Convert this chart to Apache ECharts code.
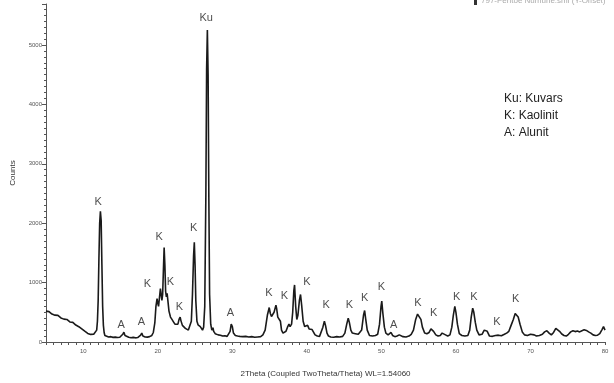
<!DOCTYPE html>
<html>
<head>
<meta charset="utf-8">
<script src="https://cdn.jsdelivr.net/npm/echarts@6/dist/echarts.min.js"></script>
<style>html,body{margin:0;padding:0;background:#fff}#c{width:614px;height:383px}</style>
</head>
<body>
<div id="c"></div>
<script>
// 2Theta positions (degrees)
var twoTheta = [
5.0,5.2,5.4,5.6,5.8,6.0,6.2,6.4,6.6,6.8,7.0,7.2,7.4,7.6,7.8,8.0,8.2,8.4,8.6,8.8,9.0,9.2,9.4,9.6,9.8,10.0,10.2,10.4,10.6,10.8,11.0,11.2,11.4,11.6,
11.8,11.9,12.0,12.1,12.2,12.3,12.4,12.5,12.6,12.7,12.8,12.9,
13.1,13.4,13.7,14.0,14.3,14.6,14.9,15.1,15.3,15.45,15.6,15.8,16.1,16.4,16.7,17.0,17.3,17.5,17.7,17.85,18.0,18.3,18.6,18.9,19.2,19.4,19.6,19.75,19.9,20.0,20.1,20.2,20.35,20.45,20.55,20.65,20.75,20.85,20.95,21.05,21.15,21.25,21.35,21.5,21.7,21.9,22.1,22.3,22.5,22.7,22.85,23.0,23.1,23.3,23.5,23.7,23.9,24.1,24.3,24.5,24.65,24.8,24.9,25.0,25.1,25.25,25.4,25.55,25.7,25.85,26.0,26.15,26.3,26.45,26.55,26.65,26.75,26.85,26.95,27.1,27.25,27.4,27.5,27.7,27.9,28.1,28.4,28.7,29.0,29.3,29.5,29.7,29.85,30.0,30.15,30.4,30.7,31.0,31.4,31.8,32.2,32.6,33.0,33.4,33.8,34.1,34.4,34.7,34.95,35.1,35.25,35.4,35.6,35.85,35.95,36.1,36.3,36.45,36.6,36.8,37.0,37.2,37.4,37.6,37.75,37.95,38.1,38.25,38.35,38.5,38.65,38.8,39.0,39.15,39.3,39.5,39.7,39.9,40.1,40.3,40.5,40.7,40.9,41.1,41.4,41.7,41.95,42.15,42.35,42.5,42.7,42.9,43.2,43.6,44.0,44.4,44.8,45.1,45.35,45.55,45.7,45.9,46.1,46.3,46.5,46.7,46.9,47.1,47.35,47.6,47.75,47.9,48.1,48.4,48.8,49.2,49.5,49.75,49.95,50.05,50.2,50.4,50.6,50.9,51.1,51.3,51.5,51.8,52.1,52.4,52.6,52.9,53.3,53.7,54.0,54.3,54.6,54.85,55.05,55.3,55.5,55.8,56.1,56.4,56.65,56.8,57.0,57.3,57.6,57.9,58.15,58.35,58.6,58.9,59.2,59.45,59.65,59.85,60.0,60.2,60.45,60.8,61.2,61.6,61.85,62.05,62.25,62.4,62.6,62.8,63.1,63.5,63.8,64.0,64.2,64.5,64.9,65.3,65.7,66.1,66.5,66.8,67.1,67.4,67.7,67.95,68.15,68.35,68.6,68.9,69.2,69.6,70.0,70.2,70.5,70.8,71.2,71.6,71.9,72.2,72.5,72.8,73.1,73.4,73.6,73.9,74.2,74.5,74.8,75.1,75.4,75.7,76.0,76.3,76.6,76.9,77.2,77.5,77.8,78.1,78.4,78.7,79.0,79.3,79.6,79.8,80.0
];
// Counts at those positions
var counts = [
520,505,512,488,470,478,452,440,448,420,405,412,385,372,380,350,338,326,330,300,285,272,258,235,220,200,182,160,145,132,128,120,130,150,
200,350,700,1400,2000,2200,2050,1300,600,280,160,110,
95,85,90,78,82,75,80,90,130,165,110,85,80,72,78,70,75,85,115,150,100,85,82,90,110,160,320,600,730,650,600,720,900,870,700,800,1200,1590,1300,850,760,820,700,520,420,380,340,300,270,300,380,420,360,280,260,230,220,200,220,350,800,1450,1680,1300,700,350,290,320,260,230,200,250,600,2500,4600,5250,4500,2400,800,300,200,240,180,140,130,120,115,100,105,95,110,180,300,260,150,110,100,95,90,95,85,90,80,85,90,120,200,450,580,480,430,440,500,620,560,420,440,350,200,150,160,180,250,300,260,300,500,860,960,600,380,450,700,800,620,350,260,240,280,220,200,210,180,120,100,95,120,250,350,280,150,100,85,80,90,85,95,150,300,400,330,200,150,120,140,160,130,110,200,450,530,380,200,110,100,110,130,300,600,690,480,250,150,120,130,160,110,90,100,120,110,90,85,100,130,200,380,470,490,380,250,150,140,160,220,245,180,120,100,110,150,165,120,100,120,250,450,600,500,300,140,110,100,110,200,420,570,500,330,200,120,130,200,230,180,100,95,110,115,105,130,150,180,280,380,480,500,420,300,170,120,110,130,150,120,100,110,130,170,190,150,120,160,230,245,180,135,110,100,130,170,190,175,185,170,190,205,195,170,150,120,110,115,140,210,260,200
];
// Peak annotations
var peakText = ['K','A','A','K','K','K','K','K','Ku','A','K','K','K','K','K','K','K','A','K','K','K','K','K','K'];
var peakX = [12.0,15.1,17.8,18.6,20.2,21.7,22.9,24.8,26.5,29.75,34.9,37.0,40.0,42.6,45.7,47.75,50.0,51.65,54.9,57.0,60.1,62.4,65.5,68.0];
var peakY = [2360,290,330,980,1770,1010,590,1920,5450,490,820,770,1010,630,630,740,930,280,650,490,760,760,340,720];
// Axis ticks
var xLabels = [10,20,30,40,50,60,70,80];
var legendLines = ['Ku: Kuvars','K: Kaolinit','A: Alunit'];

var lineData = twoTheta.map(function(x,i){return [x,counts[i]];});
var labelData = peakText.map(function(t,i){return {name:t,value:[peakX[i],peakY[i]]};});
var xMinor = [];
for (var v=5; v<=80; v++) xMinor.push(v);

var chart = echarts.init(document.getElementById('c'));
var ff = '"Liberation Sans", Arial, sans-serif';
chart.setOption({
  animation:false,
  backgroundColor:'#fff',
  grid:{left:46,right:9,top:4,bottom:41,containLabel:false},
  xAxis:{
    type:'value',min:5,max:80,
    name:'2Theta (Coupled TwoTheta/Theta) WL=1.54060',
    nameLocation:'middle',nameGap:28,
    nameTextStyle:{fontFamily:ff,fontSize:8,color:'#333'},
    axisLine:{lineStyle:{color:'#555',width:1}},
    axisTick:{show:true,customValues:xMinor,length:3,lineStyle:{color:'#555'}},
    axisLabel:{customValues:xLabels,fontFamily:ff,fontSize:6,color:'#555',margin:6},
    splitLine:{show:false}
  },
  yAxis:{
    type:'value',min:0,max:5690,interval:1000,
    name:'Counts',nameLocation:'middle',nameGap:29,nameRotate:90,nameMoveOverlap:false,
    nameTextStyle:{fontFamily:ff,fontSize:8,color:'#333'},
    axisLine:{show:true,lineStyle:{color:'#555',width:1}},
    axisTick:{show:true,length:4,lineStyle:{color:'#555'}},
    minorTick:{show:true,splitNumber:10,length:2,lineStyle:{color:'#555'}},
    axisLabel:{showMaxLabel:false,fontFamily:ff,fontSize:6,color:'#555',margin:4,
      formatter:function(v){return String(v);}},
    splitLine:{show:false}
  },
  series:[
    {type:'line',data:lineData,showSymbol:false,symbol:'none',
     lineStyle:{color:'#1a1a1a',width:1.6},z:2},
    {type:'scatter',data:labelData,symbolSize:0,z:3,
     label:{show:true,position:'inside',formatter:'{b}',fontFamily:ff,fontSize:11,color:'#222'}}
  ],
  graphic:[
    {type:'rect',left:474,top:0,shape:{width:3,height:5},style:{fill:'#333'}},
    {type:'text',left:481,top:-3,style:{text:'797-Pentoe Numune.smi (Y-Offset)',font:'8px '+ff,fill:'#aaa'}},
    {type:'text',left:504,top:90,style:{text:legendLines.join('\n'),font:'12px '+ff,fill:'#222',lineHeight:17}}
  ]
});
</script>
</body>
</html>
